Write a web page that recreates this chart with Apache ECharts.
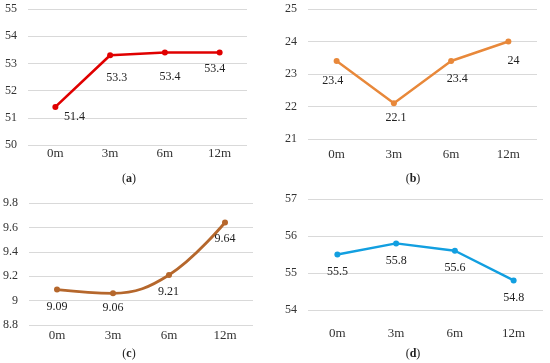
<!DOCTYPE html>
<html>
<head>
<meta charset="utf-8">
<script src="https://cdn.jsdelivr.net/npm/echarts@6/dist/echarts.min.js"></script>
<style>
html,body{margin:0;padding:0;background:#fff;}
#c{width:550px;height:363px;}
</style>
</head>
<body>
<div id="c"></div>
<script>
const categories = ['0m', '3m', '6m', '12m'];
const valuesA = [51.4, 53.3, 53.4, 53.4];
const valuesB = [23.4, 22.1, 23.4, 24];
const valuesC = [9.09, 9.06, 9.21, 9.64];
const valuesD = [55.5, 55.8, 55.6, 54.8];
const captions = ['a', 'b', 'c', 'd'];

const FONT = 'Liberation Serif';
const chart = echarts.init(document.getElementById('c'));

const panels = [
  {vals: valuesA, color: '#e00000', grid: {left: 28, top: 9, width: 219, height: 136}, min: 50, max: 55, interval: 1, margin: 2, lw: 2.6, smooth: false,
   offs: [[19, 10], [6.5, 23], [5, 24.5], [-5, 16]]},
  {vals: valuesB, color: '#e8883a', grid: {left: 308, top: 9, width: 229, height: 130}, min: 21, max: 25, interval: 1, margin: 9, lw: 2.4, smooth: false,
   offs: [[-4, 20], [2, 14.5], [6, 18], [5, 19]]},
  {vals: valuesC, color: '#b5672c', grid: {left: 28, top: 203, width: 225, height: 122}, min: 8.8, max: 9.8, interval: 0.2, margin: 4, lw: 2.8, smooth: 0.4,
   offs: [[0, 17.5], [0, 15], [-0.5, 16.5], [0, 16]]},
  {vals: valuesD, color: '#129fe0', grid: {left: 308, top: 199, width: 235, height: 111}, min: 54, max: 57, interval: 1, margin: 17, lw: 2.4, smooth: false,
   offs: [[0, 17], [0, 17], [0, 17.5], [0, 17]]}
];

const captionPos = [[129, 173], [413, 173], [129, 348], [413, 348]];

const option = {
  animation: false,
  backgroundColor: '#ffffff',
  textStyle: {fontFamily: FONT},
  title: captions.map((c, i) => ({
    text: '(' + '{b|' + c + '})',
    left: captionPos[i][0], top: captionPos[i][1], padding: 0,
    textAlign: 'center',
    textStyle: {fontFamily: FONT, fontSize: 12, fontWeight: 'normal', color: '#222',
      rich: {b: {fontFamily: FONT, fontSize: 12, fontWeight: 'bold', color: '#222'}}}
  })),
  grid: panels.map(p => Object.assign({containLabel: false}, p.grid)),
  xAxis: panels.map((p, i) => ({
    type: 'category', gridIndex: i, data: categories, boundaryGap: true,
    axisLine: {show: false}, axisTick: {show: false},
    axisLabel: {fontFamily: FONT, fontSize: 13, color: '#333', margin: p.margin}
  })),
  yAxis: panels.map((p, i) => ({
    type: 'value', gridIndex: i, min: p.min, max: p.max, interval: p.interval,
    axisLine: {show: false}, axisTick: {show: false},
    axisLabel: {fontFamily: FONT, fontSize: 12, color: '#333', margin: 11},
    splitLine: {lineStyle: {color: '#d9d9d9', width: 1}}
  })),
  series: panels.map((p, i) => ({
    type: 'line', xAxisIndex: i, yAxisIndex: i, smooth: p.smooth,
    data: p.vals.map((v, j) => ({value: v, label: {offset: p.offs[j]}})),
    symbol: 'circle', symbolSize: 6,
    lineStyle: {color: p.color, width: p.lw},
    itemStyle: {color: p.color},
    label: {show: true, position: 'inside', fontFamily: FONT, fontSize: 12, color: '#222'}
  }))
};
chart.setOption(option);
</script>
</body>
</html>
